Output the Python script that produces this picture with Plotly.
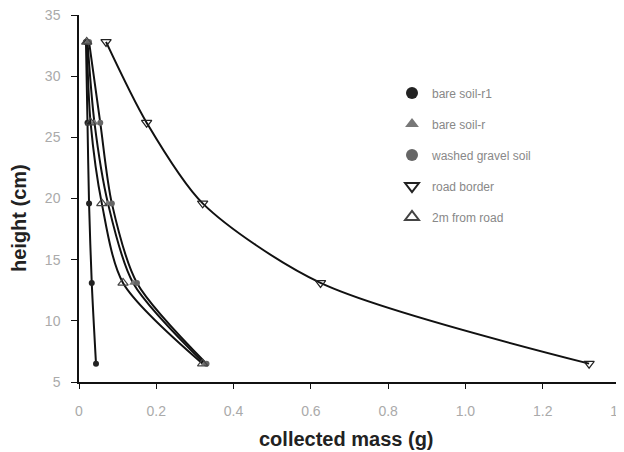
import plotly.graph_objects as go

heights = [32.8, 26.2, 19.6, 13.1, 6.5]

bare_soil_r1 = [0.018, 0.022, 0.026, 0.033, 0.044]
bare_soil_r = [0.022, 0.040, 0.075, 0.140, 0.325]
washed_gravel = [0.026, 0.055, 0.085, 0.150, 0.330]
road_border = [0.070, 0.175, 0.320, 0.625, 1.320]
two_m_from_road = [0.020, 0.030, 0.059, 0.114, 0.320]

series_names = ["bare soil-r1", "bare soil-r", "washed gravel soil", "road border", "2m from road"]
series_values = [bare_soil_r1, bare_soil_r, washed_gravel, road_border, two_m_from_road]
marker_styles = [
    dict(symbol="circle", size=6, color="#222222"),
    dict(symbol="triangle-up", size=7, color="#777777"),
    dict(symbol="circle", size=6, color="#666666"),
    dict(symbol="triangle-down-open", size=9, color="#222222", line=dict(width=1.2)),
    dict(symbol="triangle-up-open", size=9, color="#444444", line=dict(width=1.2)),
]

x_ticks = [0, 0.2, 0.4, 0.6, 0.8, 1.0, 1.2, 1.4]
x_tick_text = ["0", "0.2", "0.4", "0.6", "0.8", "1.0", "1.2", "1.4"]
y_ticks = [5, 10, 15, 20, 25, 30, 35]

W, H = 616, 444
ML, MR, MT, MB = 71, 4, 7, 70
plot_w = W - ML - MR
plot_h = H - MT - MB

fig = go.Figure()
for name, xs, ms in zip(series_names, series_values, marker_styles):
    fig.add_trace(go.Scatter(
        x=xs, y=heights, mode="lines",
        line=dict(color="#111111", width=2, shape="spline", smoothing=0.8),
        showlegend=False, hoverinfo="skip",
    ))
for i, (name, xs, ms) in enumerate(zip(series_names, series_values, marker_styles)):
    fig.add_trace(go.Scatter(
        x=xs, y=heights, mode="markers", name=name, marker=ms,
        legendgroup=f"g{i}",
    ))

fig.update_layout(
    width=W, height=H,
    margin=dict(l=ML, r=MR, t=MT, b=MB),
    paper_bgcolor="white", plot_bgcolor="white",
    font=dict(family="Liberation Sans, Arial, sans-serif", color="#111111"),
    legend=dict(
        x=(392 - ML - 8) / plot_w, y=0.827, xanchor="left", yanchor="top",
        font=dict(size=12, color="#888888"),
        tracegroupgap=12, itemsizing="constant", itemwidth=30,
        bgcolor="rgba(0,0,0,0)",
    ),
    xaxis=dict(
        range=[0, 1.4], tickvals=x_ticks, ticktext=x_tick_text, automargin=False,
        showgrid=False, zeroline=False, showline=True, linecolor="#111111", linewidth=1.5,
        ticks="outside", ticklen=5, tickcolor="#111111",
        tickfont=dict(size=14, color="#aaaaaa"), ticklabelstandoff=10,
        ticklabeloverflow="allow",
    ),
    yaxis=dict(
        range=[5, 35], tickvals=y_ticks, automargin=False,
        showgrid=False, zeroline=False, showline=True, linecolor="#111111", linewidth=1.5,
        ticks="outside", ticklen=6, tickcolor="#111111",
        tickfont=dict(size=14, color="#aaaaaa"), ticklabelstandoff=8,
        ticklabeloverflow="allow",
    ),
    annotations=[
        dict(text="<b>collected mass (g)</b>", x=0.5 - 3 / plot_w, xref="paper",
             y=(H - MB - 431) / plot_h, yref="paper",
             showarrow=False, font=dict(size=20, color="#222222"),
             xanchor="center", yanchor="middle"),
        dict(text="<b>height (cm)</b>", x=(11 - ML) / plot_w, y=1 - (210 - MT) / plot_h,
             xref="paper", yref="paper",
             showarrow=False, textangle=-90, font=dict(size=20, color="#222222"),
             xanchor="center", yanchor="middle"),
    ],
)

fig.write_html("out.html")
